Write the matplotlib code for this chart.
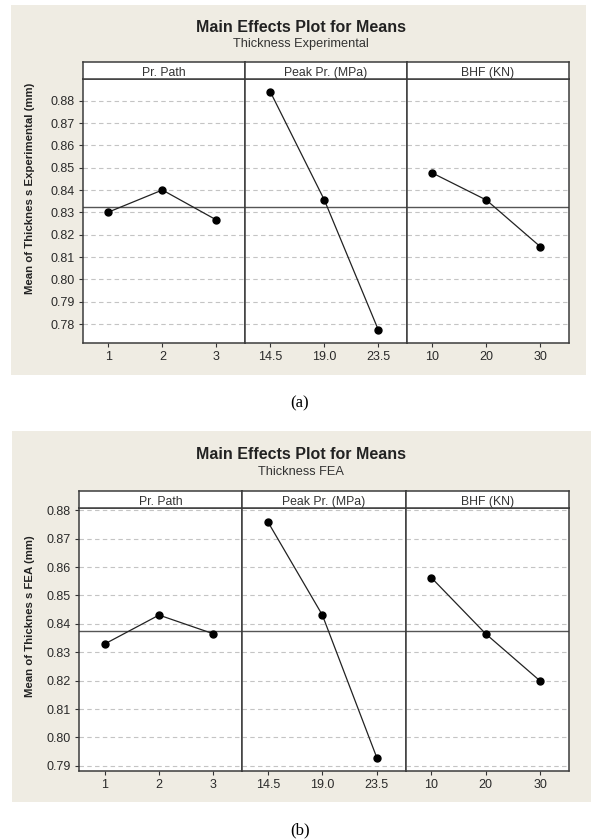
import matplotlib
matplotlib.use("Agg")
import matplotlib.pyplot as plt
from matplotlib.patches import Rectangle
import numpy as np

plt.rcParams['font.family'] = ['Liberation Sans', 'DejaVu Sans']

# ---------------- data ----------------
factors = ["Pr. Path", "Peak Pr. (MPa)", "BHF (KN)"]
levels = [["1", "2", "3"], ["14.5", "19.0", "23.5"], ["10", "20", "30"]]

exp_prpath = [0.8301, 0.8400, 0.8266]
exp_peak = [0.8839, 0.8355, 0.7773]
exp_bhf = [0.8476, 0.8355, 0.8146]

fea_prpath = [0.8329, 0.8431, 0.8365]
fea_peak = [0.8759, 0.8431, 0.7929]
fea_bhf = [0.8563, 0.8365, 0.8199]

exp_yticks = [0.78, 0.79, 0.80, 0.81, 0.82, 0.83, 0.84, 0.85, 0.86, 0.87, 0.88]
fea_yticks = [0.79, 0.80, 0.81, 0.82, 0.83, 0.84, 0.85, 0.86, 0.87, 0.88]

W, H = 591, 840
fig = plt.figure(figsize=(W / 100, H / 100), dpi=100)
fig.patch.set_facecolor("white")

BEIGE = "#EFECE3"
FRAME = "#3C3C3C"
GRID = "#C4C4C4"


def fx(x):
    return x / W


def fy(y):
    return 1 - y / H


def draw_chart(bg, plot_box, strip_top, series, yticks, ylim, title_y, sub_y,
               subtitle, ylabel, ylabel_xy, caption, caption_y):
    bx0, by0, bx1, by1 = bg
    fig.patches.append(Rectangle((fx(bx0), fy(by1)), fx(bx1 - bx0), (by1 - by0) / H,
                                 transform=fig.transFigure, facecolor=BEIGE,
                                 edgecolor="none", zorder=-10))
    x0, y0, x1, y1 = plot_box
    pw = (x1 - x0) / 3
    grand_mean = np.mean(np.concatenate([np.asarray(s) for s in series]))
    for i in range(3):
        left = x0 + i * pw
        ax = fig.add_axes([fx(left), fy(y1), pw / W, (y1 - y0) / H])
        ax.set_zorder(5)
        ax.set_facecolor("white")
        xs = np.arange(1, 4)
        ax.set_xlim(0.53, 3.53)
        ax.set_ylim(*ylim)
        for t in yticks:
            ax.axhline(t, color=GRID, lw=0.8, ls=(0, (4, 3)), zorder=1)
        ax.axhline(grand_mean, color="#555555", lw=1.0, zorder=2)
        ax.plot(xs, series[i], color="#222222", lw=0.9, marker="o",
                markersize=5, markerfacecolor="black", markeredgecolor="black",
                zorder=3)
        ax.set_xticks(xs)
        ax.set_xticklabels(levels[i])
        ax.set_yticks(yticks)
        if i == 0:
            ax.set_yticklabels([f"{t:.2f}" for t in yticks])
        else:
            ax.tick_params(axis="y", left=False, labelleft=False)
        ax.tick_params(axis="both", direction="out", length=3, width=0.8,
                       colors="#333333", labelsize=9, pad=3)
        for lab in ax.get_xticklabels() + ax.get_yticklabels():
            lab.set_color("#2a2a2a")
        for sp in ax.spines.values():
            sp.set_color(FRAME)
            sp.set_linewidth(1.1)
        # strip
        sax = fig.add_axes([fx(left), fy(y0), pw / W, (y0 - strip_top) / H])
        sax.set_zorder(5)
        sax.set_facecolor("white")
        sax.set_xticks([])
        sax.set_yticks([])
        for sp in sax.spines.values():
            sp.set_color(FRAME)
            sp.set_linewidth(1.1)
        sax.text(0.5, 0.45, factors[i], ha="center", va="center_baseline",
                 fontsize=8.8, color="#333333", transform=sax.transAxes)
    fig.text(fx(301), fy(title_y), "Main Effects Plot for Means", ha="center",
             va="center", fontsize=11.5, fontweight="bold", color="#222222")
    fig.text(fx(301), fy(sub_y), subtitle, ha="center", va="center",
             fontsize=9.2, color="#333333")
    fig.text(fx(ylabel_xy[0]), fy(ylabel_xy[1]), ylabel, ha="center",
             va="center", rotation=90, fontsize=8.2, fontweight="bold",
             color="#222222")
    fig.text(fx(300), fy(caption_y), caption, ha="center", va="center",
             fontsize=12, family="Liberation Serif", color="black")


draw_chart(bg=(11, 5, 586, 375), plot_box=(83, 79, 569, 343), strip_top=62,
           series=[exp_prpath, exp_peak, exp_bhf], yticks=exp_yticks,
           ylim=(0.7715, 0.8897), title_y=28, sub_y=44,
           subtitle="Thickness Experimental",
           ylabel="Mean of Thicknes s Experimental (mm)", ylabel_xy=(30, 188),
           caption="(a)", caption_y=403)

draw_chart(bg=(12, 431, 591, 802), plot_box=(79, 508, 569, 771), strip_top=491,
           series=[fea_prpath, fea_peak, fea_bhf], yticks=fea_yticks,
           ylim=(0.7882, 0.8808), title_y=455, sub_y=472,
           subtitle="Thickness FEA",
           ylabel="Mean of Thicknes s FEA (mm)", ylabel_xy=(30, 616),
           caption="(b)", caption_y=830)

fig.savefig("out.png", dpi=100, facecolor=fig.get_facecolor())
